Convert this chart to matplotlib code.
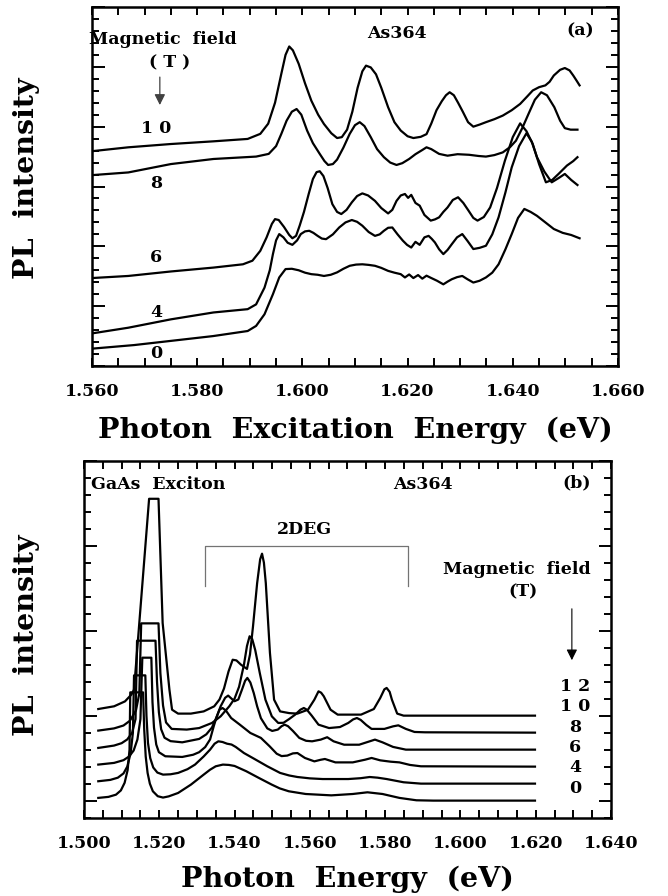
import matplotlib
matplotlib.use("Agg")
import matplotlib.pyplot as plt
from matplotlib.ticker import MultipleLocator, FormatStrFormatter

plt.rcParams["font.family"] = "DejaVu Serif"
plt.rcParams["font.weight"] = "bold"
plt.rcParams["axes.labelweight"] = "bold"

# ---- panel (a): PL excitation spectra, (energy eV, offset intensity) ----
a_fields = ["0", "4", "6", "8", "1 0"]
a_label_y = [0.43, 1.80, 3.63, 6.10, 7.93]

a0_pts = [(1.5600, 0.58), (1.5680, 0.70), (1.5750, 0.84), (1.5830, 1.00), (1.5896, 1.17),
          (1.5912, 1.34), (1.5928, 1.73), (1.5944, 2.40), (1.5956, 2.96), (1.5968, 3.24),
          (1.5980, 3.25), (1.5993, 3.20), (1.6005, 3.12), (1.6017, 3.07), (1.6029, 3.05),
          (1.6041, 3.01), (1.6054, 3.05), (1.6066, 3.13), (1.6078, 3.25), (1.6090, 3.35),
          (1.6102, 3.39), (1.6114, 3.40), (1.6126, 3.38), (1.6138, 3.35), (1.6150, 3.28),
          (1.6163, 3.18), (1.6175, 3.12), (1.6187, 3.07), (1.6195, 2.96), (1.6203, 3.06),
          (1.6211, 2.94), (1.6220, 3.04), (1.6228, 2.92), (1.6236, 3.02), (1.6244, 2.95),
          (1.6256, 2.85), (1.6268, 2.73), (1.6276, 2.82), (1.6284, 2.90), (1.6294, 2.97),
          (1.6304, 3.01), (1.6314, 2.90), (1.6325, 2.79), (1.6337, 2.85), (1.6349, 2.96),
          (1.6361, 3.12), (1.6373, 3.40), (1.6386, 3.90), (1.6398, 4.41), (1.6410, 4.95),
          (1.6422, 5.25), (1.6434, 5.15), (1.6446, 5.02), (1.6462, 4.80), (1.6478, 4.58),
          (1.6495, 4.45), (1.6511, 4.38), (1.6527, 4.27)]

a4_pts = [(1.5600, 1.09), (1.5669, 1.28), (1.5750, 1.56), (1.5831, 1.79), (1.5896, 1.90),
          (1.5912, 2.06), (1.5928, 2.62), (1.5938, 3.20), (1.5944, 3.74), (1.5950, 4.20),
          (1.5956, 4.41), (1.5964, 4.30), (1.5972, 4.12), (1.5981, 4.05), (1.5990, 4.20),
          (1.5997, 4.41), (1.6005, 4.50), (1.6013, 4.52), (1.6021, 4.45), (1.6029, 4.35),
          (1.6037, 4.26), (1.6045, 4.24), (1.6058, 4.40), (1.6070, 4.63), (1.6082, 4.80),
          (1.6094, 4.88), (1.6104, 4.82), (1.6114, 4.69), (1.6126, 4.48), (1.6138, 4.35),
          (1.6147, 4.40), (1.6155, 4.52), (1.6163, 4.62), (1.6171, 4.63), (1.6181, 4.40),
          (1.6191, 4.19), (1.6199, 4.05), (1.6207, 3.96), (1.6215, 4.15), (1.6223, 4.05),
          (1.6232, 4.30), (1.6240, 4.35), (1.6246, 4.25), (1.6252, 4.13), (1.6260, 3.90),
          (1.6268, 3.74), (1.6276, 3.88), (1.6284, 4.07), (1.6294, 4.30), (1.6304, 4.41),
          (1.6314, 4.18), (1.6325, 3.91), (1.6337, 3.95), (1.6349, 4.02), (1.6361, 4.40),
          (1.6373, 4.97), (1.6386, 5.80), (1.6398, 6.64), (1.6412, 7.35), (1.6426, 7.78),
          (1.6436, 7.50), (1.6446, 6.98), (1.6460, 6.50), (1.6474, 6.14), (1.6487, 6.28),
          (1.6499, 6.42), (1.6511, 6.22), (1.6523, 6.05)]

a6_pts = [(1.5600, 2.94), (1.5669, 3.01), (1.5750, 3.16), (1.5831, 3.29), (1.5887, 3.40),
          (1.5905, 3.52), (1.5920, 3.85), (1.5932, 4.30), (1.5942, 4.75), (1.5948, 4.91),
          (1.5955, 4.88), (1.5965, 4.65), (1.5975, 4.38), (1.5981, 4.27), (1.5988, 4.35),
          (1.5995, 4.70), (1.6003, 5.15), (1.6012, 5.75), (1.6020, 6.25), (1.6027, 6.48),
          (1.6033, 6.51), (1.6040, 6.35), (1.6048, 5.95), (1.6057, 5.41), (1.6066, 5.15),
          (1.6074, 5.08), (1.6084, 5.22), (1.6094, 5.47), (1.6104, 5.68), (1.6114, 5.77),
          (1.6125, 5.70), (1.6138, 5.52), (1.6150, 5.28), (1.6163, 5.10), (1.6171, 5.22),
          (1.6179, 5.52), (1.6187, 5.70), (1.6195, 5.75), (1.6201, 5.62), (1.6207, 5.72),
          (1.6215, 5.45), (1.6223, 5.36), (1.6232, 5.05), (1.6244, 4.86), (1.6252, 4.90),
          (1.6260, 4.97), (1.6268, 5.15), (1.6276, 5.30), (1.6286, 5.55), (1.6296, 5.64),
          (1.6306, 5.45), (1.6316, 5.19), (1.6325, 4.95), (1.6333, 4.86), (1.6345, 4.98),
          (1.6357, 5.30), (1.6370, 5.95), (1.6385, 6.86), (1.6400, 7.65), (1.6414, 8.11),
          (1.6426, 7.85), (1.6438, 7.42), (1.6450, 6.75), (1.6463, 6.14), (1.6475, 6.22),
          (1.6487, 6.42), (1.6503, 6.70), (1.6515, 6.85), (1.6523, 6.98)]

a8_pts = [(1.5600, 6.38), (1.5669, 6.47), (1.5750, 6.75), (1.5831, 6.92), (1.5912, 7.00),
          (1.5936, 7.09), (1.5950, 7.35), (1.5960, 7.76), (1.5970, 8.20), (1.5980, 8.50),
          (1.5989, 8.59), (1.5998, 8.40), (1.6009, 7.87), (1.6020, 7.45), (1.6033, 7.09),
          (1.6042, 6.85), (1.6049, 6.72), (1.6058, 6.75), (1.6066, 6.90), (1.6078, 7.30),
          (1.6090, 7.76), (1.6100, 8.05), (1.6109, 8.15), (1.6118, 8.02), (1.6130, 7.65),
          (1.6142, 7.25), (1.6155, 6.98), (1.6167, 6.80), (1.6179, 6.72), (1.6190, 6.78),
          (1.6203, 6.92), (1.6215, 7.08), (1.6228, 7.22), (1.6236, 7.31), (1.6245, 7.25),
          (1.6260, 7.09), (1.6276, 7.03), (1.6295, 7.08), (1.6317, 7.06), (1.6335, 7.02),
          (1.6349, 7.00), (1.6365, 7.05), (1.6381, 7.14), (1.6395, 7.32), (1.6406, 7.53),
          (1.6418, 7.95), (1.6430, 8.43), (1.6442, 8.90), (1.6454, 9.15), (1.6465, 9.05),
          (1.6479, 8.65), (1.6490, 8.20), (1.6499, 7.95), (1.6510, 7.90), (1.6523, 7.90)]

a10_pts = [(1.5600, 7.18), (1.5669, 7.31), (1.5750, 7.42), (1.5831, 7.51), (1.5896, 7.59),
           (1.5920, 7.76), (1.5935, 8.10), (1.5948, 8.80), (1.5960, 9.77), (1.5968, 10.40),
           (1.5975, 10.68), (1.5982, 10.55), (1.5993, 10.10), (1.6005, 9.45), (1.6017, 8.87),
           (1.6030, 8.40), (1.6041, 8.09), (1.6055, 7.78), (1.6066, 7.62), (1.6075, 7.65),
           (1.6085, 7.90), (1.6095, 8.50), (1.6105, 9.30), (1.6114, 9.85), (1.6121, 10.04),
           (1.6130, 9.98), (1.6140, 9.75), (1.6150, 9.30), (1.6163, 8.65), (1.6175, 8.15),
           (1.6187, 7.87), (1.6200, 7.68), (1.6211, 7.62), (1.6225, 7.66), (1.6236, 7.75),
           (1.6245, 8.10), (1.6255, 8.55), (1.6265, 8.85), (1.6273, 9.05), (1.6280, 9.15),
           (1.6288, 9.05), (1.6296, 8.80), (1.6305, 8.50), (1.6315, 8.15), (1.6325, 8.00),
           (1.6337, 8.07), (1.6349, 8.15), (1.6365, 8.25), (1.6381, 8.37), (1.6398, 8.55),
           (1.6414, 8.76), (1.6428, 9.02), (1.6438, 9.21), (1.6450, 9.32), (1.6462, 9.38),
           (1.6470, 9.50), (1.6478, 9.71), (1.6490, 9.90), (1.6499, 9.96), (1.6508, 9.88),
           (1.6515, 9.71), (1.6522, 9.52), (1.6527, 9.38)]

# ---- panel (b): PL spectra, offset traces with the exciton line clipped ----
b_fields = ["0", "4", "6", "8", "1 0", "1 2"]
b_label_y = [0.69, 1.92, 3.10, 4.33, 5.55, 6.70]

b0_pts = [(1.5038, 0.16), (1.5065, 0.22), (1.5085, 0.35), (1.5098, 0.60), (1.5108, 1.05),
          (1.5116, 1.80), (1.5121, 3.00), (1.5123, 6.37), (1.5157, 6.37), (1.5160, 4.20),
          (1.5164, 2.60), (1.5169, 1.63), (1.5175, 1.00), (1.5183, 0.55), (1.5196, 0.26),
          (1.5210, 0.18), (1.5225, 0.25), (1.5250, 0.45), (1.5284, 0.94), (1.5318, 1.53),
          (1.5335, 1.82), (1.5350, 2.02), (1.5369, 2.12), (1.5385, 2.10), (1.5400, 2.04),
          (1.5431, 1.73), (1.5465, 1.33), (1.5499, 0.94), (1.5520, 0.72), (1.5544, 0.55),
          (1.5589, 0.39), (1.5657, 0.31), (1.5714, 0.39), (1.5753, 0.49), (1.5793, 0.39),
          (1.5838, 0.16), (1.5883, 0.02), (1.5928, 0.00), (1.6198, 0.00)]

b4_pts = [(1.5038, 1.14), (1.5070, 1.22), (1.5090, 1.35), (1.5105, 1.60), (1.5115, 2.00),
          (1.5124, 2.80), (1.5130, 4.00), (1.5133, 7.37), (1.5163, 7.37), (1.5166, 5.00),
          (1.5170, 3.40), (1.5176, 2.50), (1.5184, 1.95), (1.5195, 1.65), (1.5210, 1.53),
          (1.5230, 1.55), (1.5250, 1.63), (1.5275, 1.85), (1.5295, 2.12), (1.5318, 2.60),
          (1.5335, 3.00), (1.5347, 3.35), (1.5357, 3.49), (1.5368, 3.45), (1.5380, 3.35),
          (1.5392, 3.30), (1.5403, 3.16), (1.5425, 2.80), (1.5453, 2.45), (1.5487, 2.02),
          (1.5521, 1.63), (1.5545, 1.48), (1.5567, 1.39), (1.5600, 1.31), (1.5634, 1.27),
          (1.5702, 1.27), (1.5735, 1.32), (1.5759, 1.39), (1.5780, 1.35), (1.5804, 1.27),
          (1.5849, 1.08), (1.5895, 1.00), (1.6198, 1.00)]

b6_pts = [(1.5038, 2.12), (1.5080, 2.22), (1.5105, 2.38), (1.5120, 2.60), (1.5132, 2.95),
          (1.5142, 3.60), (1.5150, 4.80), (1.5155, 8.41), (1.5179, 8.41), (1.5182, 5.80),
          (1.5186, 4.30), (1.5192, 3.30), (1.5199, 2.85), (1.5216, 2.61), (1.5261, 2.57),
          (1.5290, 2.70), (1.5306, 2.85), (1.5322, 3.15), (1.5335, 3.60), (1.5345, 4.40),
          (1.5352, 4.90), (1.5360, 5.35), (1.5368, 5.45), (1.5377, 5.30), (1.5391, 4.86),
          (1.5414, 4.47), (1.5442, 3.98), (1.5470, 3.69), (1.5493, 3.20), (1.5512, 2.76),
          (1.5525, 2.62), (1.5540, 2.65), (1.5555, 2.78), (1.5567, 2.80), (1.5587, 2.51),
          (1.5612, 2.31), (1.5628, 2.40), (1.5640, 2.45), (1.5668, 2.25), (1.5714, 2.25),
          (1.5747, 2.41), (1.5764, 2.51), (1.5787, 2.37), (1.5815, 2.29), (1.5838, 2.25),
          (1.5866, 2.10), (1.5895, 2.02), (1.6198, 2.00)]

b8_pts = [(1.5038, 3.10), (1.5080, 3.24), (1.5100, 3.38), (1.5115, 3.60), (1.5128, 4.00),
          (1.5137, 4.80), (1.5141, 9.41), (1.5190, 9.41), (1.5194, 7.00), (1.5199, 5.20),
          (1.5205, 4.20), (1.5214, 3.70), (1.5230, 3.50), (1.5261, 3.43), (1.5306, 3.63),
          (1.5325, 3.90), (1.5340, 4.30), (1.5352, 4.90), (1.5363, 5.55), (1.5375, 6.05),
          (1.5383, 6.18), (1.5392, 6.00), (1.5400, 5.85), (1.5410, 5.95), (1.5420, 6.55),
          (1.5428, 7.05), (1.5434, 7.22), (1.5442, 6.95), (1.5451, 6.33), (1.5460, 5.55),
          (1.5470, 4.85), (1.5487, 4.25), (1.5500, 4.10), (1.5515, 4.18), (1.5525, 4.38),
          (1.5533, 4.47), (1.5542, 4.38), (1.5555, 4.10), (1.5572, 3.69), (1.5590, 3.52),
          (1.5606, 3.49), (1.5629, 3.59), (1.5646, 3.73), (1.5663, 3.49), (1.5691, 3.29),
          (1.5731, 3.29), (1.5759, 3.49), (1.5773, 3.59), (1.5793, 3.43), (1.5821, 3.16),
          (1.5855, 3.00), (1.6198, 3.00)]

b10_pts = [(1.5038, 4.12), (1.5080, 4.25), (1.5105, 4.42), (1.5122, 4.70), (1.5138, 5.30),
           (1.5147, 6.30), (1.5152, 10.43), (1.5198, 10.43), (1.5203, 7.50), (1.5210, 5.60),
           (1.5218, 4.60), (1.5233, 4.22), (1.5273, 4.18), (1.5306, 4.27), (1.5340, 4.57),
           (1.5363, 4.96), (1.5386, 5.55), (1.5400, 6.00), (1.5412, 6.70), (1.5425, 8.00),
           (1.5433, 9.10), (1.5440, 9.67), (1.5447, 9.50), (1.5455, 8.85), (1.5467, 7.51),
           (1.5482, 5.94), (1.5499, 4.96), (1.5516, 4.57), (1.5530, 4.58), (1.5545, 4.80),
           (1.5561, 5.06), (1.5575, 5.35), (1.5584, 5.45), (1.5592, 5.35), (1.5605, 5.00),
           (1.5623, 4.47), (1.5651, 4.27), (1.5680, 4.33), (1.5702, 4.57), (1.5715, 4.78),
           (1.5725, 4.86), (1.5735, 4.75), (1.5750, 4.45), (1.5764, 4.22), (1.5798, 4.22),
           (1.5821, 4.37), (1.5835, 4.43), (1.5855, 4.22), (1.5878, 4.04), (1.5906, 4.02),
           (1.6198, 4.00)]

b12_pts = [(1.5038, 5.39), (1.5080, 5.55), (1.5109, 5.84), (1.5126, 6.24), (1.5133, 6.53),
           (1.5173, 17.76), (1.5198, 17.76), (1.5209, 10.45), (1.5227, 6.53), (1.5234, 5.35),
           (1.5250, 5.12), (1.5284, 5.12), (1.5318, 5.25), (1.5346, 5.55), (1.5360, 5.95),
           (1.5372, 6.60), (1.5384, 7.60), (1.5395, 8.29), (1.5405, 8.25), (1.5417, 8.00),
           (1.5433, 7.75), (1.5441, 8.60), (1.5449, 10.25), (1.5460, 12.80), (1.5468, 14.20),
           (1.5473, 14.53), (1.5478, 14.00), (1.5483, 12.80), (1.5494, 8.69), (1.5505, 5.94),
           (1.5521, 5.25), (1.5545, 5.15), (1.5567, 5.12), (1.5595, 5.35), (1.5612, 5.94),
           (1.5623, 6.43), (1.5630, 6.35), (1.5637, 6.14), (1.5655, 5.35), (1.5674, 5.06),
           (1.5736, 5.06), (1.5770, 5.39), (1.5787, 6.04), (1.5798, 6.55), (1.5804, 6.63),
           (1.5812, 6.40), (1.5818, 5.94), (1.5832, 5.12), (1.5849, 5.00), (1.6198, 5.00)]

# 2DEG bracket (energy range, height of legs / bar)
bracket_e = [1.5321, 1.5861]
bracket_h = [12.6, 15.0]

LW = 1.6
TXT = 12.5
BIG = 20.5

fig = plt.figure(figsize=(6.68, 8.96), dpi=100)
ax_a = fig.add_axes([0.1377, 0.5915, 0.7874, 0.4007])
ax_b = fig.add_axes([0.1257, 0.0871, 0.7890, 0.3987])


def style_axes(ax, ymajor, yminor):
    ax.xaxis.set_major_locator(MultipleLocator(0.02))
    ax.xaxis.set_minor_locator(MultipleLocator(0.005))
    ax.xaxis.set_major_formatter(FormatStrFormatter("%.3f"))
    ax.yaxis.set_major_locator(MultipleLocator(ymajor))
    ax.yaxis.set_minor_locator(MultipleLocator(yminor))
    ax.tick_params(axis="both", which="both", direction="in",
                   top=True, right=True, width=1.4)
    ax.tick_params(axis="x", which="both", length=6, pad=12, labelsize=TXT)
    ax.tick_params(axis="y", which="major", length=9)
    ax.tick_params(axis="y", which="minor", length=5)
    ax.tick_params(axis="y", labelleft=False)
    for s in ax.spines.values():
        s.set_linewidth(1.8)


def draw(ax, pts):
    e = [p[0] for p in pts]
    i = [p[1] for p in pts]
    ax.plot(e, i, color="black", lw=LW)


# panel (a)
for pts in [a0_pts, a4_pts, a6_pts, a8_pts, a10_pts]:
    draw(ax_a, pts)
ax_a.set_xlim(1.560, 1.660)
ax_a.set_ylim(0, 12)
style_axes(ax_a, 2, 0.4)
for lab, y in zip(a_fields, a_label_y):
    ax_a.text(1.5722, y, lab, ha="center", va="center", fontsize=TXT)
ax_a.text(1.5735, 10.93, "Magnetic  field", ha="center", va="center", fontsize=TXT)
ax_a.text(1.5748, 10.13, "( T )", ha="center", va="center", fontsize=TXT)
ax_a.annotate("", xy=(1.5729, 8.63), xytext=(1.5729, 9.75),
              arrowprops=dict(arrowstyle="-|>", color="0.25", lw=0.9, mutation_scale=16))
ax_a.text(1.6180, 11.1, "As364", ha="center", va="center", fontsize=TXT)
ax_a.text(1.6528, 11.2, "(a)", ha="center", va="center", fontsize=TXT)
ax_a.set_xlabel("Photon  Excitation  Energy  (eV)", fontsize=BIG, fontweight="bold",
                labelpad=12)
fig.text(0.040, 1 - 178 / 896, "PL  intensity", rotation=90, ha="center", va="center",
         fontsize=BIG, fontweight="bold")

# panel (b)
for pts in [b0_pts, b4_pts, b6_pts, b8_pts, b10_pts, b12_pts]:
    draw(ax_b, pts)
ax_b.set_xlim(1.500, 1.640)
ax_b.set_ylim(-1.02, 20.0)
style_axes(ax_b, 5, 1)
ax_b.plot([bracket_e[0], bracket_e[0], bracket_e[1], bracket_e[1]],
          [bracket_h[0], bracket_h[1], bracket_h[1], bracket_h[0]],
          color="0.45", lw=0.9)
for lab, y in zip(b_fields, b_label_y):
    ax_b.text(1.6305, y, lab, ha="center", va="center", fontsize=TXT)
ax_b.text(1.5019, 18.6, "GaAs  Exciton", ha="left", va="center", fontsize=TXT)
ax_b.text(1.5901, 18.6, "As364", ha="center", va="center", fontsize=TXT)
ax_b.text(1.6308, 18.7, "(b)", ha="center", va="center", fontsize=TXT)
ax_b.text(1.5586, 15.94, "2DEG", ha="center", va="center", fontsize=TXT)
ax_b.text(1.6149, 13.59, "Magnetic  field", ha="center", va="center", fontsize=TXT)
ax_b.text(1.6166, 12.3, "(T)", ha="center", va="center", fontsize=TXT)
ax_b.annotate("", xy=(1.6296, 8.1), xytext=(1.6296, 11.45),
              arrowprops=dict(arrowstyle="-|>", color="black", lw=0.8, mutation_scale=16))
ax_b.set_xlabel("Photon  Energy  (eV)", fontsize=BIG, fontweight="bold", labelpad=10)
fig.text(0.040, 1 - 635 / 896, "PL  intensity", rotation=90, ha="center", va="center",
         fontsize=BIG, fontweight="bold")

fig.savefig("out.png", dpi=100)
